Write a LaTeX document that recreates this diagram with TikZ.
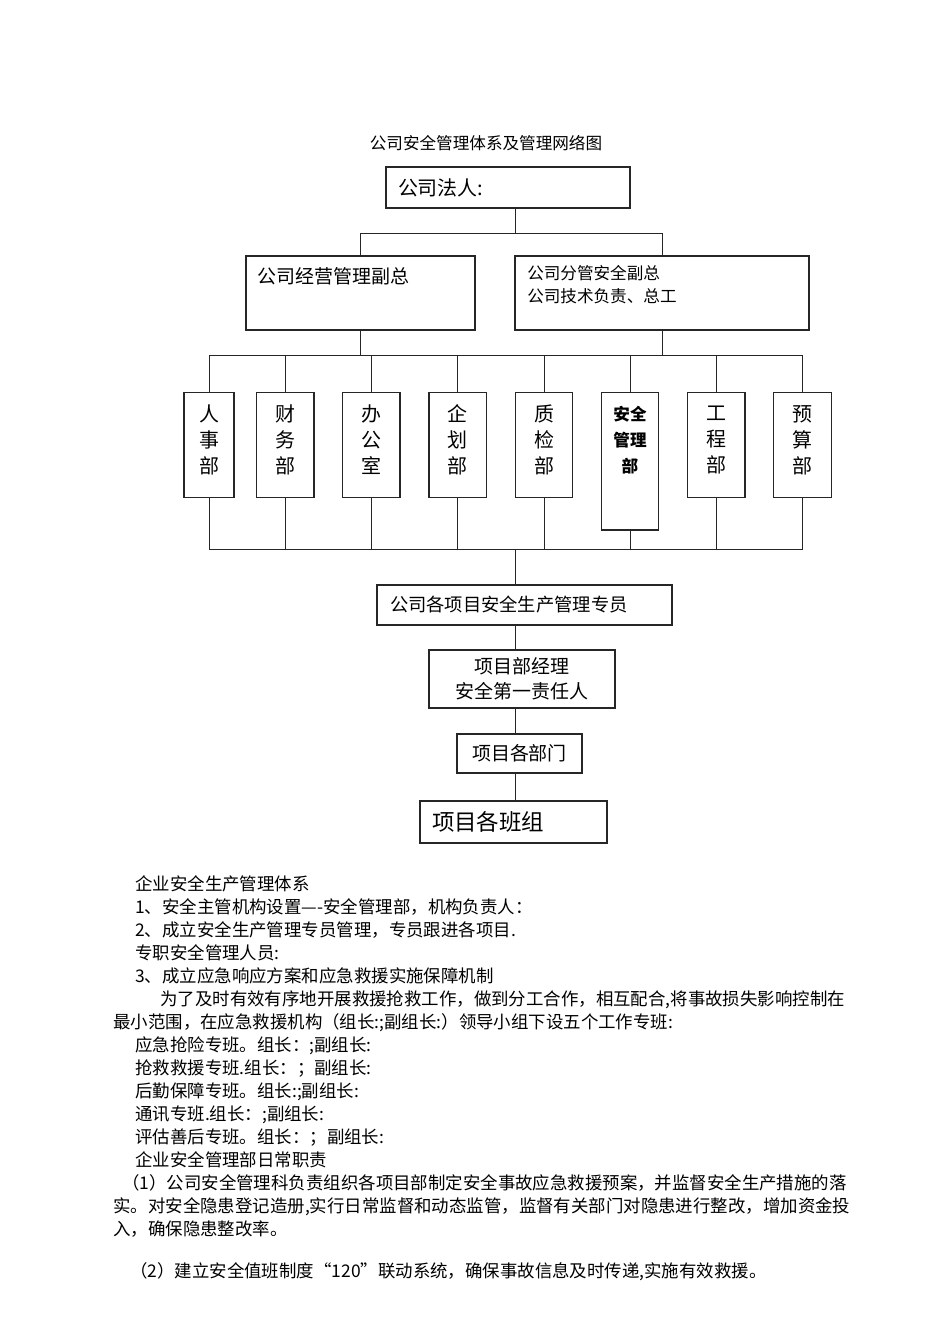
\documentclass[tikz,border=0pt]{standalone}
\usepackage{fontspec}
\setmainfont{Noto Sans CJK SC}
\usetikzlibrary{positioning}
\tikzset{%
  box/.style = { draw=black!85, line width=1.0pt, inner sep=0pt, outer sep=0pt },
  link/.style = { draw=black!85, line width=0.7pt },
  deptbox/.style = { box, minimum width=14.375mm, minimum height=26.25mm },
  depttext/.style = { align=center, inner sep=0pt, font=\fontsize{14.2pt}{18.5pt}\selectfont },
  boxtext/.style = { anchor=base west, inner sep=0pt },
  body/.style = { anchor=base west, inner sep=0pt, font=\fontsize{12.4pt}{15pt}\selectfont }
}

\begin{document}
\begin{tikzpicture}[x=0.25mm,y=-0.25mm]
  \useasboundingbox (0,0) rectangle (950,1344);

  % title
  \node[inner sep=0pt, font=\fontsize{11.8pt}{14pt}\selectfont] (title) at (486,143) {公司安全管理体系及管理网络图};

  \coordinate (trunk) at (515,0);
  \coordinate (split1) at (515,233);
  \coordinate (bus1) at (0,355);
  \coordinate (bus2) at (0,549);

  % top level
  \node[box, minimum width=61mm, minimum height=10.25mm, text width=55mm, align=left,
        font=\fontsize{14.2pt}{17pt}\selectfont] (law) at (508,187.5) {公司法人:};

  \node[box, minimum width=57.25mm, minimum height=18.5mm] (vpl) at (360.5,293) {};
  \node[boxtext, font=\fontsize{13.5pt}{16pt}\selectfont] (vpltxt) at (257,283.2) {公司经营管理副总};

  \node[box, minimum width=73.5mm, minimum height=18.5mm] (vpr) at (662,293) {};
  \node[boxtext, font=\fontsize{11.8pt}{14pt}\selectfont] (vprtxta) at (527,279.3) {公司分管安全副总};
  \node[boxtext, font=\fontsize{11.8pt}{14pt}\selectfont] (vprtxtb) at (527,302.3) {公司技术负责、总工};

  \draw[link] (law.south -| split1) -- (split1);
  \draw[link] (vpl.north) -- (vpl.north |- split1) -- (vpr.north |- split1) -- (vpr.north);

  % departments
  \foreach \n/\x/\w/\txt in {hr/209/12.5/{人\\事\\部}, fin/285.25/14.375/{财\\务\\部},
      off/371.25/14.375/{办\\公\\室}, plan/457.75/14.375/{企\\划\\部}, qc/544/14.375/{质\\检\\部},
      eng/716.25/14.375/{工\\程\\部}, bud/802.5/14.375/{预\\算\\部}} {
    \node[deptbox, minimum width=\w mm] (\n) at (\x,445) {};
    \node[depttext] (\n-txt) at (\x,440) {\txt};
  }
  \node[deptbox, minimum height=34.375mm] (safe) at (630,461.25) {};
  \node[depttext, font=\fontsize{11.8pt}{18.5pt}\selectfont\bfseries] (safe-txt) at (630,440) {安全\\管理\\部};

  \draw[link] (vpl.south) -- (vpl.south |- bus1);
  \draw[link] (vpr.south) -- (vpr.south |- bus1);
  \draw[link] (hr.north |- bus1) -- (bud.north |- bus1);
  \draw[link] (hr.south |- bus2) -- (bud.south |- bus2);
  \foreach \n in {hr,fin,off,plan,qc,safe,eng,bud} {
    \draw[link] (\n.north |- bus1) -- (\n.north);
    \draw[link] (\n.south) -- (\n.south |- bus2);
  }

  % project chain
  \node[box, minimum width=73.75mm, minimum height=10mm, text width=67.25mm, align=left,
        font=\fontsize{13pt}{16pt}\selectfont] (staff) at (524.5,605) {公司各项目安全生产管理专员};
  \node[box, minimum width=46.5mm, minimum height=14.5mm, align=center,
        font=\fontsize{13.5pt}{17.8pt}\selectfont] (pm) at (522,679) {项目部经理\\安全第一责任人};
  \node[box, minimum width=31.25mm, minimum height=9.75mm,
        font=\fontsize{13.5pt}{16pt}\selectfont] (dep) at (519.5,753.5) {项目各部门};
  \node[box, minimum width=46.75mm, minimum height=10.5mm, text width=40.75mm, align=left,
        font=\fontsize{16pt}{19pt}\selectfont] (team) at (513.5,822) {项目各班组};

  \draw[link] (bus2 -| trunk) -- (staff.north -| trunk);
  \draw[link] (staff.south -| trunk) -- (pm.north -| trunk);
  \draw[link] (pm.south -| trunk) -- (dep.north -| trunk);
  \draw[link] (dep.south -| trunk) -- (team.north -| trunk);

  % text below
  \foreach \yy/\xx/\txt [count=\i] in {
      884/135/{企业安全生产管理体系},
      907/135/{1、安全主管机构设置—-安全管理部，机构负责人：},
      930/135/{2、成立安全生产管理专员管理，专员跟进各项目.},
      953/135/{专职安全管理人员:},
      976/135/{3、成立应急响应方案和应急救援实施保障机制},
      999/160/{为了及时有效有序地开展救援抢救工作，做到分工合作，相互配合,将事故损失影响控制在},
      1022/113/{最小范围，在应急救援机构（组长:;副组长:）领导小组下设五个工作专班:},
      1045/135/{应急抢险专班。组长：;副组长:},
      1068/135/{抢救救援专班.组长：；副组长:},
      1091/135/{后勤保障专班。组长:;副组长:},
      1114/135/{通讯专班.组长：;副组长:},
      1137/135/{评估善后专班。组长：；副组长:},
      1160/135/{企业安全管理部日常职责},
      1183/122/{（1）公司安全管理科负责组织各项目部制定安全事故应急救援预案，并监督安全生产措施的落},
      1206/113/{实。对安全隐患登记造册,实行日常监督和动态监管，监督有关部门对隐患进行整改，增加资金投},
      1229/113/{入，确保隐患整改率。},
      1271/130/{（2）建立安全值班制度“120”联动系统，确保事故信息及时传递,实施有效救援。}} {
    \node[body] (line\i) at (\xx,\yy+6.7) {\txt};
  }
\end{tikzpicture}
\end{document}
